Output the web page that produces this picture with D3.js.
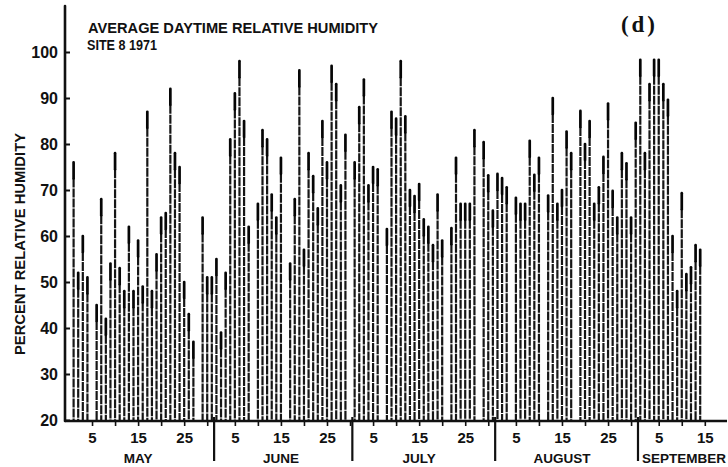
<!DOCTYPE html>
<html>
<head>
<meta charset="utf-8">
<script src="https://cdn.jsdelivr.net/npm/d3@7"></script>
<style>
  body { margin: 0; background: #fff; }
  svg { display: block; }
  text { font-family: "Liberation Sans", Arial, sans-serif; font-weight: bold; fill: #111; }
</style>
</head>
<body>
<div class="container"></div>
<script>
// months shown on the time axis (September is cut at the 15th)
var months = ["MAY", "JUNE", "JULY", "AUGUST", "SEPTEMBER"];
var monthDays = [31, 30, 31, 31, 15];
var tickDays = [5, 10, 15, 20, 25, 30];
var labelDays = [5, 15, 25];
var yTicks = [20, 30, 40, 50, 60, 70, 80, 90, 100];

// daily average daytime relative humidity (%), May 1 .. Sep 14, null = no data
var humidity = [
  76, 52, 60, 51, null, 45, 68, 42, 54, 78, 53, 48, 62, 48, 59, 49, 87, 48, 56, 64,
  65, 92, 78, 75, 50, 43, 37, null, 64, 51, 51,
  55, 39, 52, 81, 91, 98, 85, 62, null, 67, 83, 81, 69, 64, 77, null, 54, 68, 96,
  57, 78, 73, 66, 85, 76, 97, 93, 71, 82, null,
  76, 88, 94, 71, 75, 74.5, null, 61.5, 87, 85.5, 98, 86, 70, 68.7, 71.3, 63.6, 62, 58, 69,
  59, null, 61.7, 77, 67, 67, 67, 83, null, 80.4, 73.2, 65.5,
  73.5, 72.6, 70.6, null, 68.3, 67, 67, 80.7, 73.3, 77, null, 68.8, 90, 67, 70, 82.7,
  78, null, 87.2, 80, 85, 67, 70.6, 77.2, 88.8, 69.8, 64, 78, 75.8, 64, 84.6,
  98.3, 78, 93, 98.3, 98.3, 93, 89.6, 60, 48, 69.3, 51.7, 53.2, 58, 57
];

var loadChart = function() {
  var width = 728, height = 467;

  var svg = d3.select('.container')
              .append('svg')
              .attr('width', width)
              .attr('height', height);

  var monthStart = [];
  monthDays.reduce(function(acc, n) { monthStart.push(acc); return acc + n; }, 0);

  var x = d3.scaleLinear().domain([0, 137]).range([73.6, 704.8]);
  var y = d3.scaleLinear().domain([20, 100]).range([420, 52]);

  var points = humidity.map(function(v, i) { return {day: i, v: v}; })
                       .filter(function(d) { return d.v != null; });

  // bars: solid cap + broken body, like the printed figure
  var capLen = 16;
  svg.append('g').selectAll('line')
     .data(points).join('line')
     .attr('x1', function(d) { return x(d.day); })
     .attr('x2', function(d) { return x(d.day); })
     .attr('y1', function(d) { return y(d.v) + capLen; })
     .attr('y2', y(20))
     .attr('stroke', '#161616')
     .attr('stroke-width', 2.2)
     .attr('stroke-dasharray', '9 1');

  svg.append('g').selectAll('line')
     .data(points).join('line')
     .attr('x1', function(d) { return x(d.day); })
     .attr('x2', function(d) { return x(d.day); })
     .attr('y1', function(d) { return y(d.v); })
     .attr('y2', function(d) { return Math.min(y(d.v) + capLen, y(20)); })
     .attr('stroke', '#050505')
     .attr('stroke-width', 2.7)
     .attr('stroke-linecap', 'round');

  // y axis
  var yAxis = d3.axisLeft(y).tickValues(yTicks).tickSize(-5).tickPadding(7);
  var gy = svg.append('g').attr('transform', 'translate(65,0)').call(yAxis);
  gy.select('.domain').remove();
  gy.selectAll('.tick line').attr('stroke', '#111').attr('stroke-width', 2);
  gy.selectAll('.tick text').style('font-size', '16px').attr('fill', '#111');
  svg.append('line')
     .attr('x1', 65).attr('x2', 65).attr('y1', 6).attr('y2', y(20) + 1)
     .attr('stroke', '#111').attr('stroke-width', 2.6).attr('stroke-linecap', 'round');

  // x axis
  var xTickVals = [], xLabel = {};
  monthStart.forEach(function(s, i) {
    tickDays.forEach(function(t) {
      if (t <= monthDays[i]) {
        xTickVals.push(s + t - 1);
        if (labelDays.indexOf(t) >= 0) xLabel[s + t - 1] = t;
      }
    });
  });
  var xAxis = d3.axisBottom(x).tickValues(xTickVals).tickSize(5).tickPadding(6)
                .tickFormat(function(d) { return xLabel[d] ? xLabel[d] : ''; });
  var gx = svg.append('g').attr('transform', 'translate(0,' + (y(20) + 1) + ')').call(xAxis);
  gx.select('.domain').remove();
  gx.selectAll('.tick line').attr('stroke', '#111').attr('stroke-width', 1.6);
  gx.selectAll('.tick text').style('font-size', '15px').attr('fill', '#111');
  svg.append('line')
     .attr('x1', 65).attr('x2', 727).attr('y1', y(20) + 1).attr('y2', y(20) + 1)
     .attr('stroke', '#111').attr('stroke-width', 2.4);

  // month separators
  svg.append('g').selectAll('line')
     .data(monthStart.slice(1)).join('line')
     .attr('x1', function(d) { return x(d - 0.5); })
     .attr('x2', function(d) { return x(d - 0.5); })
     .attr('y1', y(20) - 3).attr('y2', 461)
     .attr('stroke', '#111').attr('stroke-width', 2.2);

  // month names
  svg.append('g').selectAll('text')
     .data(months).join('text')
     .attr('x', function(d, i) {
       return i < months.length - 1 ? x(monthStart[i] + 14) : x(monthStart[i] - 0.5) + 4;
     })
     .attr('y', 463)
     .attr('text-anchor', function(d, i) { return i < months.length - 1 ? 'middle' : 'start'; })
     .style('font-size', '13.5px')
     .text(function(d) { return d; });

  // titles
  svg.append('text').attr('x', 88).attr('y', 33)
     .attr('textLength', 290).attr('lengthAdjust', 'spacingAndGlyphs')
     .style('font-size', '14.5px').text('AVERAGE DAYTIME RELATIVE HUMIDITY');
  svg.append('text').attr('x', 87).attr('y', 50)
     .attr('textLength', 70).attr('lengthAdjust', 'spacingAndGlyphs')
     .style('font-size', '14.5px').text('SITE 8 1971');
  svg.append('text').attr('x', 621).attr('y', 32)
     .attr('textLength', 34).attr('lengthAdjust', 'spacing')
     .style('font-family', '"Liberation Serif", serif').style('font-size', '23px')
     .text('(d)');

  svg.append('text')
     .attr('transform', 'translate(25,244) rotate(-90)')
     .attr('text-anchor', 'middle')
     .attr('textLength', 222).attr('lengthAdjust', 'spacingAndGlyphs')
     .style('font-size', '14px')
     .text('PERCENT RELATIVE HUMIDITY');
};
window.onload = loadChart;
</script>
</body>
</html>
